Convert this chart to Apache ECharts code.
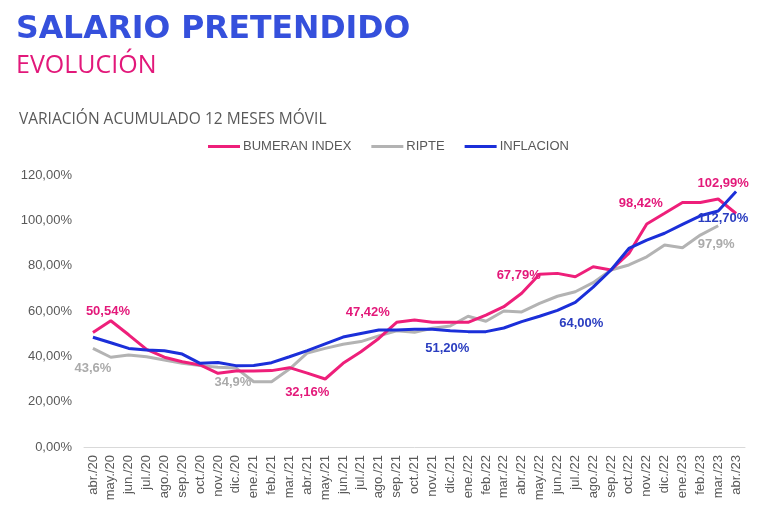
<!DOCTYPE html>
<html>
<head>
<meta charset="utf-8">
<script src="https://cdn.jsdelivr.net/npm/echarts@6/dist/echarts.min.js"></script>
<style>html,body{margin:0;padding:0;background:#fff}#c{width:768px;height:517px}</style>
</head>
<body>
<div id="c"></div>
<script>
const categories = ['abr./20','may./20','jun./20','jul./20','ago./20','sep./20','oct./20','nov./20','dic./20',
  'ene./21','feb./21','mar./21','abr./21','may./21','jun./21','jul./21','ago./21','sep./21','oct./21','nov./21','dic./21',
  'ene./22','feb./22','mar./22','abr./22','may./22','jun./22','jul./22','ago./22','sep./22','oct./22','nov./22','dic./22',
  'ene./23','feb./23','mar./23','abr./23'];

const bumeran = [50.5,55.7,49.5,43.1,39.6,37.6,36.2,32.5,33.5,33.5,33.7,35.0,32.6,30.0,36.9,42.0,47.9,55.0,56.0,55.0,55.0,
  55.0,58.2,61.9,67.8,76.2,76.6,75.1,79.5,78.1,85.4,98.4,103.1,107.9,107.9,109.4,103.0];
const ripte = [43.5,39.6,40.6,39.8,38.4,36.9,35.9,35.2,34.9,28.8,28.8,34.4,41.5,43.5,45.3,46.5,49.0,51.3,50.6,52.4,53.4,
  57.7,55.5,60.0,59.6,63.4,66.5,68.5,72.5,78.1,80.3,83.9,89.1,87.9,93.5,97.6,null];
const inflacion = [48.4,46.0,43.5,42.8,42.5,41.0,36.9,37.3,35.9,36.0,37.2,39.8,42.5,45.5,48.5,50.1,51.6,51.6,51.9,51.9,51.3,
  50.9,50.9,52.5,55.3,57.7,60.3,63.8,70.5,78.1,87.6,91.3,94.3,98.2,102.0,104.1,112.7];

// data-label texts: [category index, text]
const bumeranLabels = [[0,'50,54%'],[13,'32,16%'],[16,'47,42%'],[24,'67,79%'],[31,'98,42%'],[35,'102,99%']];
const ripteLabels = [[0,'43,6%'],[8,'34,9%'],[35,'97,9%']];
const inflacionLabels = [[20,'51,20%'],[27,'64,00%'],[36,'112,70%']];

const yTicks = [0,20,40,60,80,100,120];

// label offsets (layout only)
const offsets = {
  b: {0:[15,-21],13:[-18,13],16:[-11,-26],24:[-3,-18],31:[-6,-21],35:[5,-16]},
  r: {0:[0,20],8:[-3,15],35:[-2,19]},
  i: {20:[-3,18],27:[6,21],36:[-13,27]}
};

function build(values, labels, off, color) {
  const map = {};
  labels.forEach(([i,t]) => map[i] = t);
  return values.map((v,i) => {
    if (map[i] === undefined) return v;
    return {value: v, label: {show: true, formatter: map[i], position: 'inside', offset: off[i],
      color: color, fontWeight: 'bold', fontSize: 13, fontFamily: 'Liberation Sans, Arial, sans-serif'}};
  });
}

const PINK = '#EE1F7A', GRAY = '#B3B3B3', BLUE = '#1B2FD9';
const chart = echarts.init(document.getElementById('c'), null, {renderer: 'canvas'});
const lineSeries = (name, values, labels, off, color, labelColor) => ({
  name, type: 'line', data: build(values, labels, off, labelColor),
  symbol: 'circle', symbolSize: 0, showSymbol: true, connectNulls: false,
  lineStyle: {color, width: 3}, itemStyle: {color},
  label: {show: false}, emphasis: {disabled: true}, z: name === 'INFLACION' ? 3 : (name === 'RIPTE' ? 1 : 2)
});

chart.setOption({
  animation: false,
  backgroundColor: '#fff',
  title: [
    {text: 'SALARIO PRETENDIDO', left: 16, top: 14, padding: 0,
     textStyle: {fontFamily: 'DejaVu Sans', fontWeight: 'bold', fontSize: 31.5, color: '#3550DC'}},
    {text: 'EVOLUCIÓN', left: 16, top: 53, padding: 0,
     textStyle: {fontFamily: 'Open Sans', fontWeight: 'normal', fontSize: 25, color: '#E2187A'}},
    {text: 'VARIACIÓN ACUMULADO 12 MESES MÓVIL', left: 19, top: 112, padding: 0,
     textStyle: {fontFamily: 'Open Sans', fontWeight: 'normal', fontSize: 15.5, color: '#595959'}}
  ],
  legend: {
    left: 203, top: 135, itemWidth: 32, itemHeight: 3, itemGap: 20, icon: 'rect',
    textStyle: {fontFamily: 'Liberation Sans, Arial, sans-serif', fontSize: 13, color: '#595959', padding: [0,0,0,-2]},
    data: ['BUMERAN INDEX','RIPTE','INFLACION']
  },
  grid: {left: 84, right: 23, top: 175, bottom: 70},
  xAxis: {
    type: 'category', data: categories, boundaryGap: true,
    axisLine: {lineStyle: {color: '#D9D9D9', width: 1}},
    axisTick: {show: false},
    axisLabel: {rotate: 90, interval: 0, margin: 8, fontSize: 13, color: '#595959',
      fontFamily: 'Liberation Sans, Arial, sans-serif'}
  },
  yAxis: {
    type: 'value', min: yTicks[0], max: yTicks[yTicks.length-1], interval: 20,
    axisLine: {show: false}, axisTick: {show: false}, splitLine: {show: false},
    axisLabel: {margin: 12, fontSize: 13, color: '#595959', fontFamily: 'Liberation Sans, Arial, sans-serif',
      formatter: v => v.toFixed(2).replace('.', ',') + '%'}
  },
  series: [
    lineSeries('BUMERAN INDEX', bumeran, bumeranLabels, offsets.b, PINK, '#E3197A'),
    lineSeries('RIPTE', ripte, ripteLabels, offsets.r, GRAY, '#ABABAB'),
    lineSeries('INFLACION', inflacion, inflacionLabels, offsets.i, BLUE, '#2A3DC0')
  ]
});
</script>
</body>
</html>
